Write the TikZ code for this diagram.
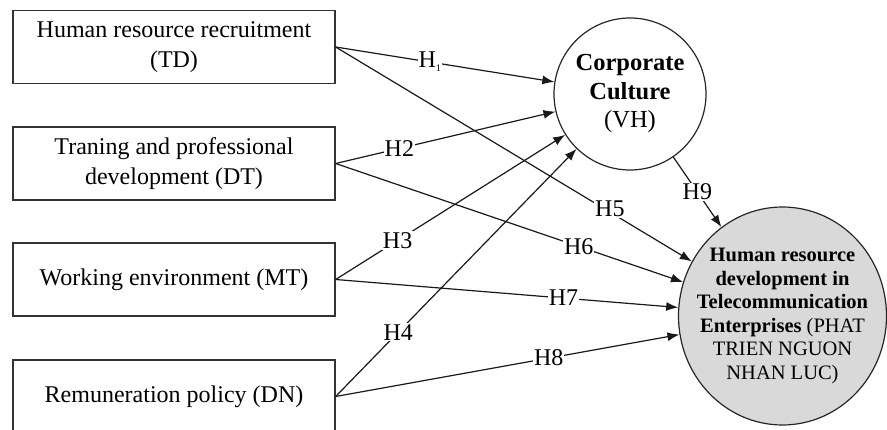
\documentclass[tikz,border=0pt]{standalone}
\usepackage{fontspec}
\setmainfont{Liberation Serif}
\usetikzlibrary{arrows.meta,shapes.geometric}
\begin{document}
\begin{tikzpicture}[x=1pt,y=-1pt,
  box/.style={draw=black!80, line width=1.3pt, minimum width=322pt, minimum height=73pt,
    inner sep=0pt, align=center, font=\fontsize{24}{30.5}\selectfont},
  conn/.style={draw=black!90, line width=1.2pt, -{Latex[length=12pt,width=9pt]}},
  lbl/.style={fill=white, inner sep=1pt, font=\fontsize{24}{28}\selectfont},
  ctext/.style={align=center, inner sep=0pt},
]
\useasboundingbox (0,0) rectangle (887,430);
\node[box] (td) at (174,47) {Human resource recruitment\\(TD)};
\node[box] (dt) at (174,163.5) {Traning and professional\\development (DT)};
\node[box] (mt) at (174,279.5) {Working environment (MT)};
\node[box] (dn) at (174,396.5) {Remuneration policy (DN)};
\node[circle, draw=black!85, line width=1.2pt, minimum size=152pt, inner sep=0pt, align=center,
  font=\fontsize{24.5}{28.5}\selectfont] (vh) at (630,94) {\textbf{Corporate}\\\textbf{Culture}\\(VH)};
\node[ellipse, draw=black!85, fill=black!15, line width=1.2pt, minimum width=208pt, minimum height=218pt,
  inner sep=0pt] (hrd) at (782.5,316) {};
\node[ctext, font=\fontsize{20.5}{23.5}\selectfont] (hrdtext) at (hrd.center)
  {\textbf{Human resource}\\\textbf{development in}\\\textbf{Telecommunication}\\\textbf{Enterprises} (PHAT\\TRIEN NGUON\\NHAN LUC)};
\draw[conn] (td.east) -- node[lbl,pos=0.43]{H\raisebox{-4pt}{\fontsize{10}{10}\selectfont 1}} (vh);
\draw[conn] (td.east) -- node[lbl,pos=0.77,yshift=3pt]{H5} (hrd);
\draw[conn] (dt.east) -- node[lbl,pos=0.29]{H2} (vh);
\draw[conn] (dt.east) -- node[lbl,pos=0.70]{H6} (hrd);
\draw[conn] (mt.east) -- node[lbl,pos=0.27]{H3} (vh);
\draw[conn] (mt.east) -- node[lbl,pos=0.665]{H7} (hrd);
\draw[conn] (dn.east) -- node[lbl,pos=0.26]{H4} (vh);
\draw[conn] (dn.east) -- node[lbl,pos=0.62]{H8} (hrd);
\draw[conn] (vh) -- node[lbl,pos=0.5]{H9} (hrd);
\end{tikzpicture}
\end{document}
